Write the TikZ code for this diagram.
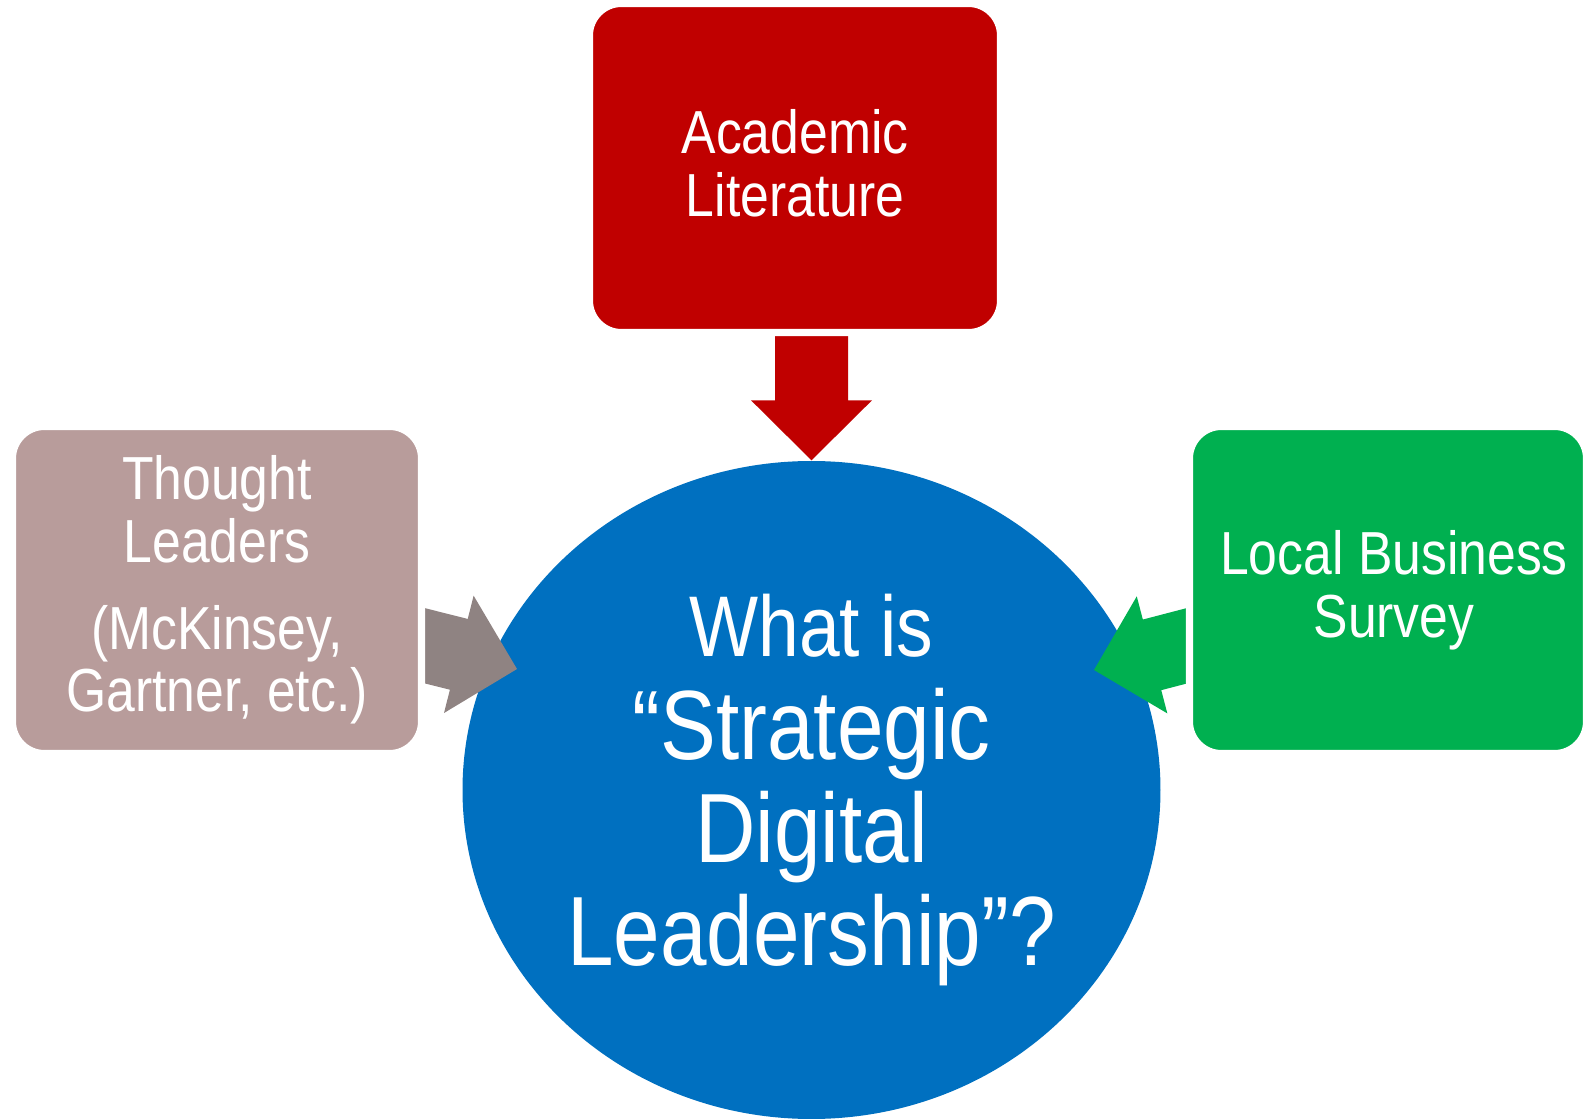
\documentclass[tikz,border=0pt]{standalone}
\usepackage{fontspec}
\setmainfont{Liberation Sans}[FakeStretch=0.85]
\usepackage{tikz}
\usetikzlibrary{positioning, calc, shapes.geometric}
\definecolor{academic_red}{HTML}{C00000}
\definecolor{leader_grey}{HTML}{B89C9B}
\definecolor{leader_arrow}{HTML}{8F8382}
\definecolor{survey_green}{HTML}{00B050}
\definecolor{question_blue}{HTML}{0070C0}

\begin{document}
\begin{tikzpicture}[x=0.1mm, y=-0.1mm,
    info_box/.style={rectangle, rounded corners=3.2mm, draw=white, line width=2pt,
        text=white, align=center, font=\fontsize{17.3}{17.8}\selectfont},
    question_node/.style={ellipse, fill=question_blue, inner sep=0, text=white,
        align=center, minimum width=69.8mm, minimum height=65.8mm,
        font=\fontsize{28}{29.3}\selectfont},
    block_arrow/.style 2 args={insert path={%
        ($(#1)!3.65mm!90:(#2)$) -- ($(#2)!6mm!(#1)!3.65mm!-90:(#1)$)
        -- ($(#2)!6mm!(#1)!6.05mm!-90:(#1)$) -- (#2)
        -- ($(#2)!6mm!(#1)!6.05mm!90:(#1)$) -- ($(#2)!6mm!(#1)!3.65mm!90:(#1)$)
        -- ($(#1)!3.65mm!-90:(#2)$) -- cycle}}]
    \useasboundingbox (0,0) rectangle (1585,1119);

    % Central question
    \node[question_node] (question) at (811.5,790)
        {{\fontsize{24.5}{29.3}\selectfont What is}\\“Strategic\\Digital\\Leadership”?};

    % Arrows into the question
    \coordinate (arr0_tip) at (question.north);
    \coordinate (arr0_start) at ($(arr0_tip)-(0,141)$);
    \fill[academic_red, block_arrow={arr0_start}{arr0_tip}];

    \coordinate (arr1_tip) at (517,669);
    \coordinate (arr1_start) at (402,640);
    \fill[leader_arrow, block_arrow={arr1_start}{arr1_tip}];

    \coordinate (arr2_tip) at (1094,670);
    \coordinate (arr2_start) at (1209,640);
    \fill[survey_green, block_arrow={arr2_start}{arr2_tip}];

    % Sources
    \node[info_box, fill=academic_red, minimum width=41.1mm, minimum height=32.9mm]
        (academic) at (795,168) {Academic\\Literature\\[-15pt]};
    \node[info_box, fill=leader_grey, minimum width=40.9mm, minimum height=32.7mm]
        (thought) at (217,590) {Thought\\Leaders\\[7pt](McKinsey,\\Gartner, etc.)};
    \node[info_box, fill=survey_green, minimum width=39.7mm, minimum height=32.7mm]
        (survey) at (1388,590) {\hspace*{1.2mm}Local Business\\\hspace*{1.2mm}Survey};
\end{tikzpicture}
\end{document}
